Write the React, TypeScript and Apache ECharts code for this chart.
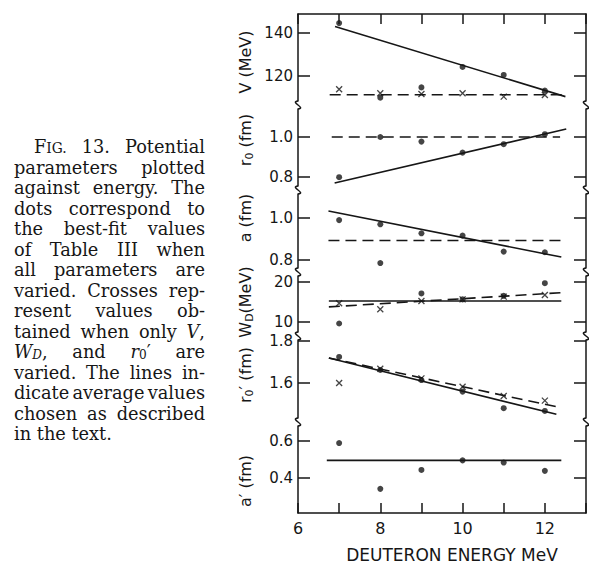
import React, { useEffect, useRef } from 'react';
import * as echarts from 'echarts';

// Deuteron energies (MeV) at which the optical-model fits were made
const energies = [7, 8, 9, 10, 11, 12];

// V (MeV)
const vDots = [144.6, 109.9, 114.7, 124.2, 120.5, 113.2];
const vCrosses = [113.8, 112.0, 111.6, 112.0, 110.4, 111.2];
const vSolidLine = [[6.9, 143.0], [12.5, 110.4]];
const vDashedLine = [[6.77, 111.3], [12.5, 111.3]];
const vTicks = [120, 140];

// r0 (fm)
const r0Dots = [0.799, 1.0, 0.977, 0.922, 0.964, 1.014];
const r0SolidLine = [[6.89, 0.77], [12.52, 1.04]];
const r0DashedLine = [[6.82, 1.0], [12.37, 1.0]];
const r0Ticks = [0.8, 1.0];

// a (fm)
const aDots = [0.99, 0.97, 0.927, 0.916, 0.84, 0.837];
const aSolidLine = [[6.74, 1.033], [12.4, 0.814]];
const aDashedLine = [[6.74, 0.893], [12.4, 0.893]];
const aTicks = [0.8, 1.0];

// W_D (MeV)
const wdDots = [9.5, 24.8, 17.1, 15.6, 16.5, 19.7];
const wdCrosses = [14.6, 13.1, 15.2, 15.6, 16.3, 16.7];
const wdSolidLine = [[6.75, 15.2], [12.4, 15.2]];
const wdDashedLine = [[6.75, 13.7], [12.4, 17.3]];
const wdTicks = [10, 20];

// r0' (fm)
const r0pDots = [1.724, 1.662, 1.614, 1.559, 1.48, 1.467];
const r0pCrosses = [1.6, 1.668, 1.622, 1.582, 1.538, 1.516];
const r0pSolidLine = [[6.75, 1.719], [12.28, 1.451]];
const r0pDashedLine = [[6.75, 1.719], [12.28, 1.487]];
const r0pTicks = [1.6, 1.8];

// a' (fm)
const apDots = [0.59, 0.341, 0.444, 0.496, 0.484, 0.439];
const apSolidLine = [[6.7, 0.496], [12.4, 0.496]];
const apTicks = [0.4, 0.6];

const xTickLabels = [6, 8, 10, 12];
const xTitle = 'DEUTERON ENERGY MeV';

const captionLines = [
  'FIG. 13. Potential',
  'parameters plotted',
  'against energy. The',
  'dots correspond to',
  'the best-fit values',
  'of Table III when',
  'all parameters are',
  'varied. Crosses rep-',
  'resent values ob-',
  'tained when only V,',
  "W_D, and r0' are",
  'varied. The lines in-',
  'dicate average values',
  'chosen as described',
  'in the text.',
];

const INK = '#161616';
const SANS = "'DejaVu Sans', sans-serif";
const SERIF = "'DejaVu Serif', serif";

// frame geometry
const FRAME_LEFT = 298;
const FRAME_RIGHT = 586;
const BREAKS = [14, 105, 190, 272, 336, 422, 523];
const GAP = 4;

type Seg = { t: string; scale?: number; italic?: boolean; dy?: number };

type Panel = {
  ticks: number[];
  digits: number;
  calib: number[][]; // [value, pixel] pairs
  dots: number[];
  crosses?: number[];
  solid: number[][];
  dashed?: number[][];
  title: Seg[];
  titleY: number;
};

const panels: Panel[] = [
  { ticks: vTicks, digits: 0, calib: [[140, 33], [120, 76]], dots: vDots, crosses: vCrosses, solid: vSolidLine, dashed: vDashedLine, title: [{ t: 'V (MeV)' }], titleY: 62 },
  { ticks: r0Ticks, digits: 1, calib: [[1.0, 137], [0.8, 177]], dots: r0Dots, solid: r0SolidLine, dashed: r0DashedLine, title: [{ t: 'r' }, { t: '0', scale: 0.68, dy: 3 }, { t: ' (fm)' }], titleY: 140 },
  { ticks: aTicks, digits: 1, calib: [[1.0, 218], [0.8, 260]], dots: aDots, solid: aSolidLine, dashed: aDashedLine, title: [{ t: 'a (fm)' }], titleY: 218 },
  { ticks: wdTicks, digits: 0, calib: [[20, 282], [10, 321.5]], dots: wdDots, crosses: wdCrosses, solid: wdSolidLine, dashed: wdDashedLine, title: [{ t: 'W' }, { t: 'D', scale: 0.68, dy: 3 }, { t: '(MeV)' }], titleY: 302 },
  { ticks: r0pTicks, digits: 1, calib: [[1.8, 341], [1.6, 383]], dots: r0pDots, crosses: r0pCrosses, solid: r0pSolidLine, dashed: r0pDashedLine, title: [{ t: 'r' }, { t: '0', scale: 0.68, dy: 3 }, { t: '′ (fm)' }], titleY: 375 },
  { ticks: apTicks, digits: 1, calib: [[0.6, 443], [0.4, 484]], dots: apDots, solid: apSolidLine, title: [{ t: 'a′ (fm)' }], titleY: 481 },
];

function valueAt(p: number, calib: number[][]) {
  const [[v1, p1], [v2, p2]] = calib;
  return v1 + ((p - p1) * (v2 - v1)) / (p2 - p1);
}

function fontOf(size: number, italic: boolean | undefined, family: string) {
  return `${italic ? 'italic ' : ''}${size}px ${family}`;
}

function wordSegs(w: string): Seg[] {
  switch (w) {
    case 'FIG.':
      return [{ t: 'F' }, { t: 'IG.', scale: 0.78 }];
    case 'V,':
      return [{ t: 'V', italic: true }, { t: ',' }];
    case 'W_D,':
      return [{ t: 'W', italic: true }, { t: 'D', italic: true, scale: 0.68, dy: 1.5 }, { t: ',' }];
    case "r0'":
      return [{ t: 'r', italic: true }, { t: '0', scale: 0.68, dy: 1.5 }, { t: '′' }];
    default:
      return [{ t: w }];
  }
}

function segsWidth(ctx: CanvasRenderingContext2D, segs: Seg[], size: number, family: string) {
  let w = 0;
  for (const s of segs) {
    ctx.font = fontOf(size * (s.scale ?? 1), s.italic, family);
    w += ctx.measureText(s.t).width;
  }
  return w;
}

function placeSegs(ctx: CanvasRenderingContext2D, segs: Seg[], size: number, family: string, x0: number, y: number) {
  const els: any[] = [];
  let x = x0;
  for (const s of segs) {
    const sz = size * (s.scale ?? 1);
    const font = fontOf(sz, s.italic, family);
    ctx.font = font;
    const w = ctx.measureText(s.t).width;
    els.push({
      type: 'text',
      x,
      y: y + (s.dy ?? 0) + 0.35 * (size - sz),
      silent: true,
      style: { text: s.t, font, fill: INK, textAlign: 'left', textVerticalAlign: 'middle' },
    });
    x += w;
  }
  return els;
}

function buildCaption(ctx: CanvasRenderingContext2D) {
  const left = 14;
  const right = 205;
  const indent = 20;
  const lineY0 = 147;
  const lineStep = 20.5;
  const words = captionLines.map((l) => l.split(' ').map(wordSegs));

  // largest size at which every justified line still fits
  let size = 20;
  for (; size > 11; size -= 0.25) {
    let ok = true;
    words.forEach((ws, k) => {
      if (k === words.length - 1) return;
      const avail = right - left - (k === 0 ? indent : 0);
      const total = ws.reduce((a, s) => a + segsWidth(ctx, s, size, SERIF), 0);
      if (total + (ws.length - 1) * 0.12 * size > avail) ok = false;
    });
    if (ok) break;
  }

  ctx.font = fontOf(size, false, SERIF);
  const space = ctx.measureText(' ').width;
  const els: any[] = [];
  words.forEach((ws, k) => {
    const x0 = left + (k === 0 ? indent : 0);
    const widths = ws.map((s) => segsWidth(ctx, s, size, SERIF));
    const total = widths.reduce((a, b) => a + b, 0);
    const last = k === words.length - 1;
    const gap = last || ws.length < 2 ? space : (right - x0 - total) / (ws.length - 1);
    let x = x0;
    const y = lineY0 + k * lineStep;
    ws.forEach((s, j) => {
      els.push(...placeSegs(ctx, s, size, SERIF, x, y));
      x += widths[j] + gap;
    });
  });
  return els;
}

function buildTitles(ctx: CanvasRenderingContext2D) {
  const size = 16;
  return panels.map((p) => {
    const w = segsWidth(ctx, p.title, size, SANS);
    return {
      type: 'group',
      x: 245,
      y: p.titleY,
      rotation: Math.PI / 2,
      children: placeSegs(ctx, p.title, size, SANS, -w / 2, 0),
    };
  });
}

function buildBreaks() {
  const els: any[] = [];
  BREAKS.slice(1, -1).forEach((y) => {
    [FRAME_LEFT, FRAME_RIGHT].forEach((x) => {
      els.push({
        type: 'bezierCurve',
        silent: true,
        shape: { x1: x, y1: y - GAP, x2: x, y2: y + GAP, cpx1: x - 9, cpy1: y - GAP + 1, cpx2: x + 9, cpy2: y + GAP - 1 },
        style: { stroke: INK, lineWidth: 1.5, fill: 'none' },
      });
    });
  });
  return els;
}

function buildOption(ctx: CanvasRenderingContext2D) {
  const grid: any[] = [];
  const xAxis: any[] = [];
  const yAxis: any[] = [];
  const series: any[] = [];
  const frameLine = { show: true, lineStyle: { color: INK, width: 1.5 } };

  panels.forEach((p, i) => {
    const top = BREAKS[i] + (i > 0 ? GAP : 0);
    const bottom = BREAKS[i + 1] - (i < panels.length - 1 ? GAP : 0);
    grid.push({ left: FRAME_LEFT, width: FRAME_RIGHT - FRAME_LEFT, top, height: bottom - top });

    const isTop = i === 0;
    const isBottom = i === panels.length - 1;
    xAxis.push({
      gridIndex: i,
      type: 'value',
      min: 6,
      max: 13,
      interval: 1,
      show: isTop || isBottom,
      position: isTop ? 'top' : 'bottom',
      axisLine: frameLine,
      axisTick: { show: true, inside: true, length: 10, lineStyle: { color: INK, width: 1.5 } },
      axisLabel: {
        show: isBottom,
        customValues: xTickLabels,
        formatter: (v: number) => String(v),
        color: INK,
        fontFamily: SANS,
        fontSize: 16,
        margin: 7,
      },
      splitLine: { show: false },
      name: isBottom ? xTitle : '',
      nameLocation: 'middle',
      nameGap: 33,
      nameTextStyle: { color: INK, fontFamily: SANS, fontSize: 17, padding: [0, 0, 0, 20] },
    });

    const min = valueAt(bottom, p.calib);
    const max = valueAt(top, p.calib);
    ['left', 'right'].forEach((pos) => {
      yAxis.push({
        gridIndex: i,
        type: 'value',
        position: pos,
        min,
        max,
        axisLine: frameLine,
        axisTick: { show: true, inside: true, length: 12, customValues: p.ticks, lineStyle: { color: INK, width: 1.5 } },
        axisLabel: {
          show: pos === 'left',
          customValues: p.ticks,
          formatter: (v: number) => v.toFixed(p.digits),
          color: INK,
          fontFamily: SANS,
          fontSize: 15,
          margin: 5,
        },
        splitLine: { show: false },
      });
    });

    const yIdx = i * 2;
    series.push({
      type: 'line',
      xAxisIndex: i,
      yAxisIndex: yIdx,
      data: p.solid,
      symbol: 'none',
      silent: true,
      lineStyle: { color: INK, width: 1.6 },
    });
    if (p.dashed) {
      series.push({
        type: 'line',
        xAxisIndex: i,
        yAxisIndex: yIdx,
        data: p.dashed,
        symbol: 'none',
        silent: true,
        lineStyle: { color: INK, width: 1.6, type: [11, 6] },
      });
    }
    series.push({
      type: 'scatter',
      xAxisIndex: i,
      yAxisIndex: yIdx,
      data: energies.map((e, j) => [e, p.dots[j]]),
      symbol: 'circle',
      symbolSize: 6,
      clip: false,
      silent: true,
      itemStyle: { color: INK },
      z: 5,
    });
    if (p.crosses) {
      series.push({
        type: 'scatter',
        xAxisIndex: i,
        yAxisIndex: yIdx,
        data: energies.map((e, j) => [e, p.crosses![j]]),
        symbol: 'path://M0 0L10 10M10 0L0 10',
        symbolSize: 6,
        clip: false,
        silent: true,
        itemStyle: { color: 'none', borderColor: INK, borderWidth: 1.3 },
        z: 5,
      });
    }
  });

  return {
    animation: false,
    backgroundColor: '#ffffff',
    grid,
    xAxis,
    yAxis,
    series,
    graphic: [...buildCaption(ctx), ...buildTitles(ctx), ...buildBreaks()],
  };
}

export default function App() {
  const ref = useRef<HTMLDivElement>(null);

  useEffect(() => {
    if (!ref.current) return;
    const chart = echarts.init(ref.current, undefined, { renderer: 'svg' });
    const canvas = document.createElement('canvas');
    const ctx = canvas.getContext('2d') as CanvasRenderingContext2D;
    chart.setOption(buildOption(ctx) as any);
    return () => chart.dispose();
  }, []);

  return (
    <div
      ref={ref}
      style={{ position: 'absolute', left: 0, top: 0, width: 589, height: 564, background: '#fff' }}
    />
  );
}
